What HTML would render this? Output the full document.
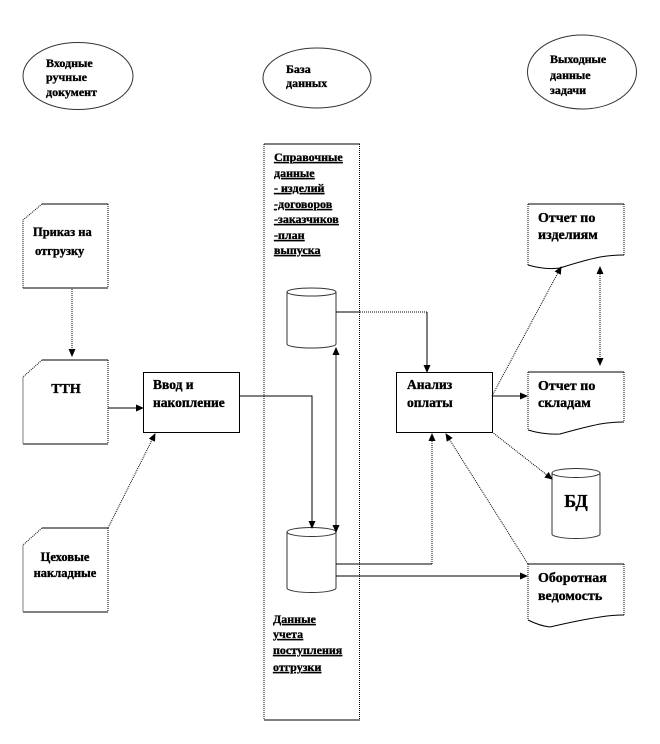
<!DOCTYPE html>
<html><head><meta charset="utf-8">
<style>
html,body{margin:0;padding:0;background:#fff;}
svg{display:block;}
text{font-family:"Liberation Serif","DejaVu Serif",serif;font-weight:bold;fill:#000;stroke:#000;stroke-width:0.35;}
.s{font-size:12px;}
.m{font-size:12.5px;}
.b{font-size:13.5px;}
.r{font-size:14px;}
.u{text-decoration:underline;font-size:12px;}
</style></head>
<body>
<svg width="660" height="744" viewBox="0 0 660 744" xmlns="http://www.w3.org/2000/svg">
<defs>
<marker id="ah" markerWidth="8" markerHeight="8" refX="7" refY="4" orient="auto" markerUnits="userSpaceOnUse">
<path d="M0,0.5 L8,4 L0,7.5 Z" fill="#000"/>
</marker>
<marker id="ahs" markerWidth="8" markerHeight="8" refX="1" refY="4" orient="auto" markerUnits="userSpaceOnUse">
<path d="M8,0.5 L0,4 L8,7.5 Z" fill="#000"/>
</marker>
</defs>

<!-- Top ellipses -->
<ellipse cx="78" cy="76" rx="55" ry="33.5" fill="none" stroke="#333" stroke-width="1"/>
<text class="s" x="46" y="67">Входные</text>
<text class="s" x="46" y="81">ручные</text>
<text class="s" x="46" y="96">документ</text>

<ellipse cx="317" cy="78" rx="54" ry="30" fill="none" stroke="#333" stroke-width="1"/>
<text class="s" x="286" y="73">База</text>
<text class="s" x="286" y="87">данных</text>

<ellipse cx="582" cy="72" rx="54.5" ry="37" fill="none" stroke="#333" stroke-width="1"/>
<text class="s" x="550" y="63">Выходные</text>
<text class="s" x="550" y="79">данные</text>
<text class="s" x="550" y="94">задачи</text>

<!-- Panel -->
<line x1="264" y1="144" x2="360" y2="144" stroke="#000"/>
<line x1="264" y1="720" x2="360" y2="720" stroke="#000"/>
<line x1="264" y1="144" x2="264" y2="720" stroke="#000" stroke-dasharray="1,1"/>
<line x1="359.5" y1="144" x2="359.5" y2="720" stroke="#000" stroke-dasharray="1,1"/>
<text class="u" x="274" y="161">Справочные</text>
<text class="u" x="274" y="177">данные</text>
<text class="u" x="274" y="192">- изделий</text>
<text class="u" x="274" y="208">-договоров</text>
<text class="u" x="274" y="223">-заказчиков</text>
<text class="u" x="274" y="239">-план</text>
<text class="u" x="274" y="254">выпуска</text>

<text class="u" x="273" y="623">Данные</text>
<text class="u" x="273" y="638">учета</text>
<text class="u" x="273" y="654">поступления</text>
<text class="u" x="273" y="671">отгрузки</text>

<!-- Cylinder 1 -->
<path d="M287,292 L287,344 A24.5,4 0 0 0 336,344 L336,292" fill="#fff" stroke="#333"/>
<ellipse cx="311.5" cy="292" rx="24.5" ry="4" fill="#fff" stroke="#333"/>
<!-- Cylinder 2 -->
<path d="M287,532 L287,588 A24.5,4.5 0 0 0 336,588 L336,532" fill="#fff" stroke="#333"/>
<ellipse cx="311.5" cy="532" rx="24.5" ry="4.5" fill="#fff" stroke="#333"/>

<!-- Left documents -->
<path d="M42,204 L108,204 M23,288 L108,288" stroke="#000" fill="none"/>
<path d="M42,204 L23,220 L23,288" stroke="#000" fill="none" stroke-dasharray="1,1"/>
<line x1="108" y1="204" x2="108" y2="288" stroke="#000" stroke-dasharray="1,1"/>
<text class="m" x="33" y="236">Приказ на</text>
<text class="m" x="35" y="255">отгрузку</text>

<path d="M42,360 L108,360 M23,444 L108,444" stroke="#000" fill="none"/>
<path d="M42,360 L23,377 L23,444" stroke="#000" fill="none" stroke-dasharray="1,1"/>
<line x1="108" y1="360" x2="108" y2="444" stroke="#000" stroke-dasharray="1,1"/>
<text x="66" y="393" text-anchor="middle" style="font-size:14px">ТТН</text>

<path d="M42,528 L108,528 M23,612 L108,612" stroke="#000" fill="none"/>
<path d="M42,528 L23,545 L23,612" stroke="#000" fill="none" stroke-dasharray="1,1"/>
<line x1="108" y1="528" x2="108" y2="612" stroke="#000" stroke-dasharray="1,1"/>
<text class="m" x="65" y="561" text-anchor="middle">Цеховые</text>
<text class="m" x="65" y="577" text-anchor="middle">накладные</text>

<!-- Ввод box -->
<rect x="143.5" y="372.5" width="96" height="60" fill="#fff" stroke="#000"/>
<text class="b" x="153" y="389">Ввод и</text>
<text class="b" x="153" y="407">накопление</text>

<!-- Анализ box -->
<rect x="396.5" y="372.5" width="96" height="60" fill="#fff" stroke="#000"/>
<text class="b" x="407" y="389">Анализ</text>
<text class="b" x="407" y="407">оплаты</text>

<!-- Right documents -->
<path d="M528,204 L624,204" stroke="#000"/>
<path d="M528,204 L528,265 M624,204 L624,255" stroke="#000" stroke-dasharray="1,1" fill="none"/>
<path d="M528,265 Q545,270 560,268 Q585,260 600,257 Q612,255 624,255" stroke="#000" fill="none"/>
<text class="r" x="538" y="222">Отчет по</text>
<text class="r" x="538" y="239">изделиям</text>

<path d="M528,372 L624,372" stroke="#000"/>
<path d="M528,372 L528,430 M624,372 L624,422" stroke="#000" stroke-dasharray="1,1" fill="none"/>
<path d="M528,430 Q545,435 560,434 Q585,427 600,424 Q612,422 624,422" stroke="#000" fill="none"/>
<text class="r" x="538" y="390">Отчет по</text>
<text class="r" x="538" y="407">складам</text>

<path d="M528,564 L624,564" stroke="#000"/>
<path d="M528,564 L528,620 M624,564 L624,615" stroke="#000" stroke-dasharray="1,1" fill="none"/>
<path d="M528,620 Q540,626 550,627 Q580,620 600,617 Q612,615 624,615" stroke="#000" fill="none"/>
<text x="538" y="582" style="font-size:14px">Оборотная</text>
<text x="538" y="600" style="font-size:14px">ведомость</text>

<!-- БД cylinder -->
<path d="M552,473 L552,534 A24,4.5 0 0 0 600,534 L600,473" fill="#fff" stroke="#333"/>
<ellipse cx="576" cy="473" rx="24" ry="4.5" fill="#fff" stroke="#333"/>
<text x="576" y="507" text-anchor="middle" style="font-size:18px">БД</text>

<!-- Connectors -->
<line x1="72" y1="289" x2="72" y2="356" stroke="#000" stroke-dasharray="1,1" marker-end="url(#ah)"/>
<line x1="108" y1="408" x2="143" y2="408" stroke="#000" marker-end="url(#ah)"/>
<line x1="108" y1="528" x2="155" y2="434" stroke="#000" stroke-dasharray="1,1" marker-end="url(#ah)"/>
<polyline points="240,396 312,396 312,528" fill="none" stroke="#000" marker-end="url(#ah)"/>
<line x1="336" y1="532" x2="336" y2="348" stroke="#555" stroke-width="1.3" marker-start="url(#ahs)" marker-end="url(#ah)"/>
<polyline points="336,312 360,312" fill="none" stroke="#000"/>
<polyline points="360,312 427,312" fill="none" stroke="#000" stroke-dasharray="1,1"/>
<line x1="427" y1="312" x2="427" y2="372" stroke="#000" marker-end="url(#ah)"/>
<polyline points="336,564 432,564" fill="none" stroke="#000"/>
<line x1="432" y1="564" x2="432" y2="434" stroke="#000" stroke-dasharray="1,1" marker-end="url(#ah)"/>
<line x1="336" y1="576" x2="527" y2="576" stroke="#000" marker-end="url(#ah)"/>
<line x1="492" y1="396" x2="527" y2="396" stroke="#000" marker-end="url(#ah)"/>
<line x1="492" y1="396" x2="561" y2="267" stroke="#000" stroke-dasharray="1,1" marker-end="url(#ah)"/>
<line x1="600" y1="365" x2="600" y2="267" stroke="#000" stroke-dasharray="1,1" marker-start="url(#ahs)" marker-end="url(#ah)"/>
<line x1="492" y1="432" x2="552" y2="479" stroke="#000" stroke-dasharray="1,1" marker-end="url(#ah)"/>
<line x1="528" y1="564" x2="446" y2="434" stroke="#000" stroke-dasharray="1,1" marker-end="url(#ah)"/>
</svg>
</body></html>
